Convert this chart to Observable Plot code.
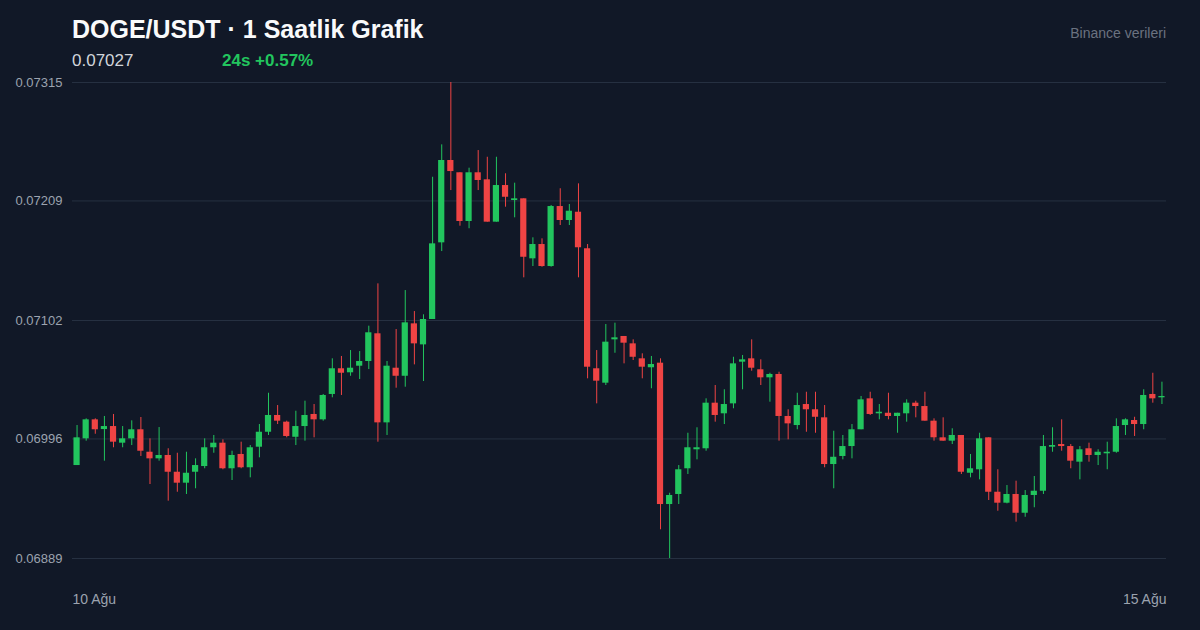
<!DOCTYPE html>
<html><head><meta charset="utf-8">
<script src="https://cdn.jsdelivr.net/npm/d3@7"></script>
<script src="https://cdn.jsdelivr.net/npm/@observablehq/plot@0.6"></script>
<style>
html,body{margin:0;padding:0;background:#111827;}
#wrap{position:relative;width:1200px;height:630px;overflow:hidden;font-family:"Liberation Sans",Arial,Helvetica,sans-serif;background:#111827;}
#wrap svg{position:absolute;left:0;top:0;}
.hd{position:absolute;white-space:nowrap;}
#title{left:72px;top:17px;font-size:25px;line-height:25px;font-weight:700;color:#f9fafb;}
#price{left:72px;top:52px;font-size:17px;line-height:17px;color:#d1d5db;}
#change{left:222px;top:52px;font-size:17px;line-height:17px;font-weight:700;color:#22c55e;}
#source{right:34px;top:26px;font-size:14px;line-height:14px;color:#6b7280;}
</style></head>
<body>
<div id="wrap">
  <div class="hd" id="title"></div>
  <div class="hd" id="price"></div>
  <div class="hd" id="change"></div>
  <div class="hd" id="source"></div>
</div>
<script>
const titleText = "DOGE/USDT · 1 Saatlik Grafik";
const priceText = "0.07027";
const changeText = "24s +0.57%";
const sourceText = "Binance verileri";
const xLabels = ["10 Ağu", "15 Ağu"];
const yTicks = [0.06889, 0.06996, 0.07102, 0.07209, 0.07315];

const open = [0.069722,0.069961,0.070131,0.070044,0.070071,0.069922,0.069961,0.070042,0.069841,0.069782,
0.069812,0.069662,0.069564,0.069662,0.069713,0.069881,0.069922,0.069693,0.069821,0.069702,
0.069886,0.070020,0.070170,0.070110,0.069975,0.070071,0.070179,0.070131,0.070358,0.070588,
0.070552,0.070611,0.070653,0.070901,0.070104,0.070593,0.070521,0.070990,0.070802,0.071029,
0.071715,0.072452,0.072342,0.071906,0.072342,0.072279,0.071900,0.072228,0.072094,0.072109,
0.071572,0.071700,0.071503,0.072040,0.071915,0.071989,0.071662,0.070588,0.070459,0.070847,
0.070877,0.070811,0.070677,0.070597,0.070638,0.069373,0.069463,0.069693,0.069863,0.069872,
0.070280,0.070185,0.070274,0.070647,0.070677,0.070579,0.070507,0.070537,0.070161,0.070080,
0.070268,0.070221,0.070149,0.069731,0.069803,0.069892,0.070042,0.070319,0.070185,0.070190,
0.070161,0.070185,0.070280,0.070250,0.070119,0.069970,0.069940,0.069991,0.069653,0.069684,
0.069970,0.069483,0.069385,0.069463,0.069295,0.069454,0.069492,0.069886,0.069910,0.069892,
0.069752,0.069872,0.069812,0.069827,0.069841,0.070080,0.070125,0.070089,0.070358,0.070328];

const high = [0.070080,0.070140,0.070140,0.070161,0.070179,0.070071,0.070122,0.070152,0.069961,0.070062,
0.069872,0.069832,0.069841,0.069782,0.069961,0.069991,0.069952,0.069850,0.069931,0.069901,
0.070089,0.070369,0.070259,0.070119,0.070208,0.070298,0.070268,0.070358,0.070677,0.070698,
0.070751,0.070742,0.070969,0.071348,0.070653,0.070939,0.071288,0.071100,0.071071,0.072302,
0.072592,0.073150,0.072342,0.072383,0.072541,0.072481,0.072481,0.072333,0.072249,0.072109,
0.071760,0.071751,0.072049,0.072199,0.072058,0.072243,0.071700,0.070751,0.070984,0.070996,
0.070877,0.070847,0.070722,0.070698,0.070677,0.069474,0.069722,0.070011,0.070060,0.070319,
0.070438,0.070400,0.070691,0.070707,0.070847,0.070668,0.070548,0.070557,0.070221,0.070369,
0.070378,0.070378,0.070259,0.070029,0.069991,0.070089,0.070340,0.070378,0.070268,0.070369,
0.070190,0.070310,0.070298,0.070378,0.070140,0.070149,0.070051,0.069991,0.069821,0.070011,
0.069970,0.069684,0.069543,0.069582,0.069498,0.069624,0.069991,0.070060,0.070131,0.069910,
0.069892,0.069922,0.069863,0.069931,0.070140,0.070140,0.070154,0.070400,0.070548,0.070468];

const low = [0.069722,0.069940,0.070002,0.069761,0.069881,0.069881,0.069901,0.069803,0.069552,0.069761,
0.069403,0.069483,0.069463,0.069514,0.069693,0.069832,0.069684,0.069588,0.069693,0.069612,
0.069791,0.069991,0.070089,0.069970,0.069901,0.069940,0.069970,0.070119,0.070328,0.070349,
0.070521,0.070492,0.070581,0.069931,0.069991,0.070414,0.070423,0.070623,0.070474,0.071029,
0.071637,0.072183,0.071864,0.071841,0.072183,0.071900,0.071900,0.072034,0.071939,0.071402,
0.071503,0.071497,0.071497,0.071870,0.071870,0.071402,0.070498,0.070274,0.070438,0.070727,
0.070632,0.070662,0.070498,0.070409,0.069147,0.068890,0.069373,0.069642,0.069773,0.069850,
0.070110,0.070089,0.070230,0.070400,0.070566,0.070438,0.070289,0.069940,0.069952,0.070042,
0.070020,0.070011,0.069702,0.069514,0.069773,0.069782,0.070042,0.070170,0.070131,0.070131,
0.070011,0.070110,0.070149,0.070119,0.069940,0.069940,0.069910,0.069642,0.069612,0.069594,
0.069409,0.069313,0.069379,0.069215,0.069259,0.069344,0.069463,0.069841,0.069850,0.069693,
0.069594,0.069752,0.069722,0.069684,0.069832,0.069991,0.069982,0.070042,0.070280,0.070268];

const close = [0.069970,0.070131,0.070042,0.070071,0.069931,0.069961,0.070042,0.069850,0.069782,0.069812,
0.069662,0.069564,0.069653,0.069722,0.069881,0.069922,0.069693,0.069812,0.069702,0.069881,
0.070020,0.070170,0.070119,0.069982,0.070071,0.070170,0.070131,0.070349,0.070588,0.070548,
0.070593,0.070653,0.070910,0.070104,0.070611,0.070521,0.070999,0.070811,0.071029,0.071706,
0.072452,0.072353,0.071906,0.072342,0.072273,0.071900,0.072228,0.072123,0.072109,0.071586,
0.071700,0.071503,0.072040,0.071915,0.071998,0.071671,0.070602,0.070477,0.070826,0.070865,
0.070817,0.070691,0.070602,0.070626,0.069373,0.069454,0.069684,0.069881,0.069881,0.070280,
0.070170,0.070268,0.070632,0.070668,0.070593,0.070507,0.070537,0.070161,0.070095,0.070259,
0.070221,0.070154,0.069731,0.069796,0.069892,0.070042,0.070310,0.070179,0.070199,0.070161,
0.070190,0.070280,0.070250,0.070119,0.069970,0.069940,0.069991,0.069662,0.069693,0.069961,
0.069483,0.069385,0.069463,0.069295,0.069454,0.069492,0.069892,0.069901,0.069892,0.069761,
0.069863,0.069812,0.069841,0.069841,0.070071,0.070131,0.070089,0.070349,0.070319,0.070340];

const UP = "#22c55e", DOWN = "#ef4444";
const data = open.map((o, i) => ({i, open: o, high: high[i], low: low[i], close: close[i],
  color: close[i] >= o ? UP : DOWN}));

document.getElementById("title").textContent = titleText;
document.getElementById("price").textContent = priceText;
document.getElementById("change").textContent = changeText;
document.getElementById("source").textContent = sourceText;

const chart = Plot.plot({
  width: 1200, height: 630,
  marginTop: 82, marginBottom: 72, marginLeft: 72, marginRight: 34,
  style: {background: "transparent", fontFamily: "'Liberation Sans', Arial, sans-serif"},
  x: {type: "band", domain: d3.range(open.length), paddingInner: 0.32, paddingOuter: 0.16, round: false, axis: null},
  y: {domain: [yTicks[0], yTicks[yTicks.length - 1]], axis: null},
  color: {type: "identity"},
  marks: [
    Plot.gridY(yTicks, {stroke: "#263041", strokeOpacity: 1, strokeWidth: 1}),
    Plot.axisY(yTicks, {tickSize: 0, tickPadding: 10, tickFormat: d => d.toFixed(5), fill: "#9ca3af", fontSize: 13}),
    Plot.ruleX(data, {x: "i", y1: "low", y2: "high", stroke: "color", strokeWidth: 1}),
    Plot.barY(data, {x: "i", y1: "open", y2: "close", fill: "color"}),
    Plot.text([xLabels[0]], {frameAnchor: "bottom-left", textAnchor: "start", dy: 45, fill: "#9ca3af", fontSize: 14}),
    Plot.text([xLabels[1]], {frameAnchor: "bottom-right", textAnchor: "end", dy: 45, fill: "#9ca3af", fontSize: 14})
  ]
});
document.getElementById("wrap").prepend(chart);
</script>
</body></html>
